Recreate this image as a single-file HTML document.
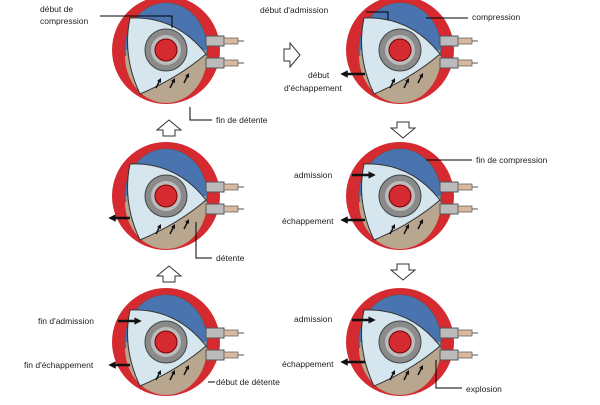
<!DOCTYPE html><html><head><style>
body{margin:0;background:#fff;width:600px;height:400px;overflow:hidden}
svg text{font-family:"Liberation Sans",sans-serif;font-size:8.5px;fill:#222}
</style></head><body>
<svg width="600" height="400" viewBox="0 0 600 400">
<defs>
<marker id="m" viewBox="0 0 10 10" refX="5" refY="5" markerWidth="3" markerHeight="3" orient="auto"><path d="M0,0 L10,5 L0,10 Z" fill="#111"/></marker>
<g id="eng">
<circle r="54" fill="#d42a30"/>
<ellipse rx="41" ry="47" fill="#9a9a9a" stroke="#555" stroke-width="1"/>
<path d="M-41,0 A41,47 0 0 1 41,0 Z" fill="#4a74b0"/>
<path d="M-41,6 A41,47 0 0 0 41,6 Z" fill="#b9a68f"/>
<path d="M-36,-32 Q10,-34 40,4 Q12,28 -26,44 Q-44,6 -36,-32 Z" fill="#d5e6ee" stroke="#333" stroke-width="1"/>
<circle r="21" fill="#8a8a8a" stroke="#444" stroke-width="1"/>
<circle r="15" fill="#bbb"/>
<circle r="11" fill="#d42a30" stroke="#700" stroke-width="1"/>
<g fill="#bbb" stroke="#555" stroke-width="1">
<rect x="40" y="-14" width="18" height="10"/><rect x="40" y="8" width="18" height="10"/>
</g>
<g fill="#d9b8a0" stroke="#666" stroke-width=".8">
<rect x="58" y="-12" width="14" height="6"/><rect x="58" y="10" width="14" height="6"/>
</g>
<g stroke="#555"><line x1="72" y1="-9" x2="78" y2="-9"/><line x1="72" y1="13" x2="78" y2="13"/></g>
<g stroke="#111" stroke-width="1.5" marker-end="url(#m)"><line x1="-10" y1="38" x2="-6" y2="30"/><line x1="4" y1="38" x2="8" y2="30"/><line x1="18" y1="33" x2="22" y2="25"/></g>
</g>
<g id="ar"><path d="M-6,-6 H0 V-12 L10,0 L0,12 V6 H-6 Z" fill="#fff" stroke="#333" stroke-width="1"/></g>
</defs>
<use href="#eng" x="166" y="50"/>
<use href="#eng" x="400" y="50"/>
<use href="#eng" x="166" y="196"/>
<use href="#eng" x="400" y="196"/>
<use href="#eng" x="166" y="342"/>
<use href="#eng" x="400" y="342"/>
<use href="#ar" x="290" y="55"/>
<use href="#ar" transform="translate(403,128) rotate(90)"/>
<use href="#ar" transform="translate(403,270) rotate(90)"/>
<use href="#ar" transform="translate(169,130) rotate(-90)"/>
<use href="#ar" transform="translate(169,276) rotate(-90)"/>
<g stroke="#000" stroke-width="1" fill="none">
<path d="M100,16 H172 V28"/><path d="M190,107 V120 H212"/><path d="M366,12 H388 V20"/><path d="M426,18 H468"/>
<path d="M426,160 H472"/><path d="M196,222 V258 H212"/><path d="M208,382 H215"/><path d="M436,360 V388 H462"/>
</g>
<g stroke="#111" stroke-width="2.5" marker-end="url(#m)">
<line x1="365" y1="74" x2="344" y2="74"/><line x1="352" y1="175" x2="372" y2="175"/><line x1="365" y1="220" x2="344" y2="220"/>
<line x1="130" y1="218" x2="112" y2="218"/><line x1="118" y1="321" x2="138" y2="321"/><line x1="130" y1="365" x2="112" y2="365"/>
<line x1="352" y1="320" x2="372" y2="320"/><line x1="365" y1="362" x2="344" y2="362"/>
</g>
<text x="40" y="12">début de</text><text x="40" y="24">compression</text>
<text x="216" y="123">fin de détente</text>
<text x="260" y="13">début d'admission</text>
<text x="472" y="20">compression</text>
<text x="308" y="78">début</text><text x="284" y="91">d'échappement</text>
<text x="476" y="163">fin de compression</text>
<text x="294" y="178">admission</text>
<text x="282" y="224">échappement</text>
<text x="216" y="261">détente</text>
<text x="38" y="324">fin d'admission</text>
<text x="24" y="368">fin d'échappement</text>
<text x="216" y="385">début de détente</text>
<text x="294" y="322">admission</text>
<text x="282" y="367">échappement</text>
<text x="466" y="392">explosion</text>
</svg>
</body></html>
